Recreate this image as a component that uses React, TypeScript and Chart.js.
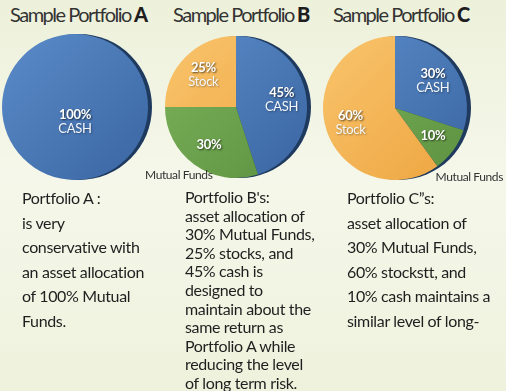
import React, { useEffect, useRef } from "react";
import { Chart, registerables } from "chart.js";
Chart.register(...registerables);

// ---- data ----
const categoriesA = ["CASH"];
const valuesA = [100];
const insideNamesA = ["CASH"];

const categoriesB = ["CASH", "Mutual Funds", "Stock"];
const valuesB = [45, 30, 25];
const insideNamesB = ["CASH", "", "Stock"];

const categoriesC = ["CASH", "Mutual Funds", "Stock"];
const valuesC = [30, 10, 60];
const insideNamesC = ["CASH", "", "Stock"];

const titleLetters = ["A", "B", "C"];
const outsideLabel = "Mutual Funds";

const textA = ["Portfolio A :", "is very", "conservative with", "an asset allocation", "of 100% Mutual", "Funds."];
const textB = [
  "Portfolio B's:",
  "asset allocation of",
  "30% Mutual Funds,",
  "25% stocks, and",
  "45% cash is",
  "designed to",
  "maintain about the",
  "same return as",
  "Portfolio A while",
  "reducing the level",
  "of long term risk.",
];
const textC = ["Portfolio C\u201ds:", "asset allocation of", "30% Mutual Funds,", "60% stockstt, and", "10% cash maintains a", "similar level of long-"];

// ---- styles ----
const palette: Record<string, [string, string]> = {
  CASH: ["#5a8bc9", "#3a66a2"],
  "Mutual Funds": ["#7db35b", "#5c9140"],
  Stock: ["#f9c46c", "#eea540"],
};

const rimPlugin = {
  id: "rim",
  beforeDatasetsDraw(chart: any) {
    const meta = chart.getDatasetMeta(0);
    const arc = meta.data[0];
    if (!arc) return;
    const { x, y, outerRadius } = arc.getProps(["x", "y", "outerRadius"], true);
    const ctx = chart.ctx;
    ctx.save();
    ctx.beginPath();
    ctx.arc(x + 4, y, outerRadius, 0, Math.PI * 2);
    ctx.fillStyle = "#1f3a5f";
    ctx.fill();
    ctx.restore();
  },
};

const labelPlugin = {
  id: "inlabels",
  afterDatasetsDraw(chart: any, _args: any, opts: any) {
    const meta = chart.getDatasetMeta(0);
    const data = chart.data.datasets[0].data as number[];
    const names: string[] = opts.names || [];
    const factor: number = opts.factor ?? 0.65;
    const ctx = chart.ctx;
    meta.data.forEach((arc: any, i: number) => {
      const { x, y, startAngle, endAngle, outerRadius } = arc.getProps(
        ["x", "y", "startAngle", "endAngle", "outerRadius"],
        true
      );
      const mid = (startAngle + endAngle) / 2;
      const r = outerRadius * factor;
      const lx = x + Math.cos(mid) * r;
      const ly = y + Math.sin(mid) * r;
      const name = names[i] || "";
      ctx.save();
      ctx.textAlign = "center";
      ctx.textBaseline = "middle";
      (ctx as any).letterSpacing = "-0.3px";
      ctx.shadowColor = "rgba(0,0,0,0.65)";
      ctx.shadowBlur = 2;
      ctx.shadowOffsetX = 1;
      ctx.shadowOffsetY = 1;
      ctx.fillStyle = "#ffffff";
      ctx.font = "bold 13px Lato";
      const pct = data[i] + "%";
      if (name) {
        ctx.fillText(pct, lx, ly - 7);
        ctx.font = "13px Lato";
        ctx.shadowColor = "rgba(0,0,0,0.35)";
        ctx.fillStyle = "#f4f7fb";
        ctx.fillText(name, lx, ly + 7);
      } else {
        ctx.fillText(pct, lx, ly);
      }
      ctx.restore();
    });
  },
};

function PieChart(props: {
  categories: string[];
  values: number[];
  names: string[];
  cx: number;
  cy: number;
  r: number;
  factor: number;
}) {
  const ref = useRef<HTMLCanvasElement | null>(null);
  const size = 170;
  useEffect(() => {
    if (!ref.current) return;
    const chart = new Chart(ref.current, {
      type: "pie",
      data: {
        labels: props.categories,
        datasets: [
          {
            data: props.values,
            borderWidth: 0,
            backgroundColor: (ctx: any) => {
              const cat = props.categories[ctx.dataIndex];
              const [light, dark] = palette[cat];
              const ca = ctx.chart.chartArea;
              if (!ca) return light;
              const g = ctx.chart.ctx.createLinearGradient(ca.left, ca.top, ca.right, ca.bottom);
              g.addColorStop(0, light);
              g.addColorStop(1, dark);
              return g;
            },
          },
        ],
      },
      options: {
        responsive: false,
        animation: false,
        layout: { padding: size / 2 - props.r },
        plugins: {
          legend: { display: false },
          tooltip: { enabled: false },
          inlabels: { names: props.names, factor: props.factor },
        } as any,
      },
      plugins: [rimPlugin, labelPlugin],
    });
    return () => chart.destroy();
  }, []);
  return (
    <canvas
      ref={ref}
      width={size}
      height={size}
      style={{ position: "absolute", left: props.cx - size / 2, top: props.cy - size / 2, width: size, height: size }}
    />
  );
}

const titleStyle: React.CSSProperties = {
  position: "absolute",
  top: 2,
  fontFamily: "Lato",
  fontWeight: 400,
  fontSize: 20,
  lineHeight: "24px",
  letterSpacing: "-1.5px",
  color: "#333",
  whiteSpace: "nowrap",
};

function Title({ left, letter }: { left: number; letter: string }) {
  return (
    <div style={{ ...titleStyle, left }}>
      Sample Portfolio
      <span style={{ fontWeight: 900, color: "#1e1e1e", letterSpacing: 0, marginLeft: 3 }}>{letter}</span>
    </div>
  );
}

function Para({ left, top, lines, lh }: { left: number; top: number; lines: string[]; lh: number }) {
  return (
    <div
      style={{
        position: "absolute",
        left,
        top,
        fontFamily: "Lato",
        fontSize: 16,
        lineHeight: lh + "px",
        letterSpacing: "-0.35px",
        color: "#1f1f1f",
        whiteSpace: "nowrap",
      }}
    >
      {lines.map((l, i) => (
        <div key={i}>{l}</div>
      ))}
    </div>
  );
}

const smallLabel: React.CSSProperties = {
  position: "absolute",
  fontFamily: "Lato",
  fontSize: 12,
  lineHeight: "14px",
  letterSpacing: "-0.4px",
  color: "#333",
  whiteSpace: "nowrap",
};

export default function App() {
  return (
    <div
      style={{
        position: "absolute",
        left: 0,
        top: 0,
        width: 506,
        height: 391,
        overflow: "hidden",
        background: "linear-gradient(180deg, #edf1da 0%, #f5f7ea 45%, #f2f5e4 70%, #eef2dc 100%)",
      }}
    >
      <Title left={10} letter={titleLetters[0]} />
      <Title left={173} letter={titleLetters[1]} />
      <Title left={333} letter={titleLetters[2]} />
      <PieChart categories={categoriesA} values={valuesA} names={insideNamesA} cx={75} cy={107} r={73} factor={0.2} />
      <PieChart categories={categoriesB} values={valuesB} names={insideNamesB} cx={236} cy={107} r={71} factor={0.65} />
      <PieChart categories={categoriesC} values={valuesC} names={insideNamesC} cx={395} cy={108} r={72} factor={0.65} />
      <div style={{ ...smallLabel, left: 145, top: 168 }}>{outsideLabel}</div>
      <div style={{ ...smallLabel, right: 3, top: 170 }}>{outsideLabel}</div>
      <Para left={22} top={186} lines={textA} lh={24.5} />
      <Para left={185} top={188} lines={textB} lh={18.6} />
      <Para left={347} top={186} lines={textC} lh={24.6} />
    </div>
  );
}
